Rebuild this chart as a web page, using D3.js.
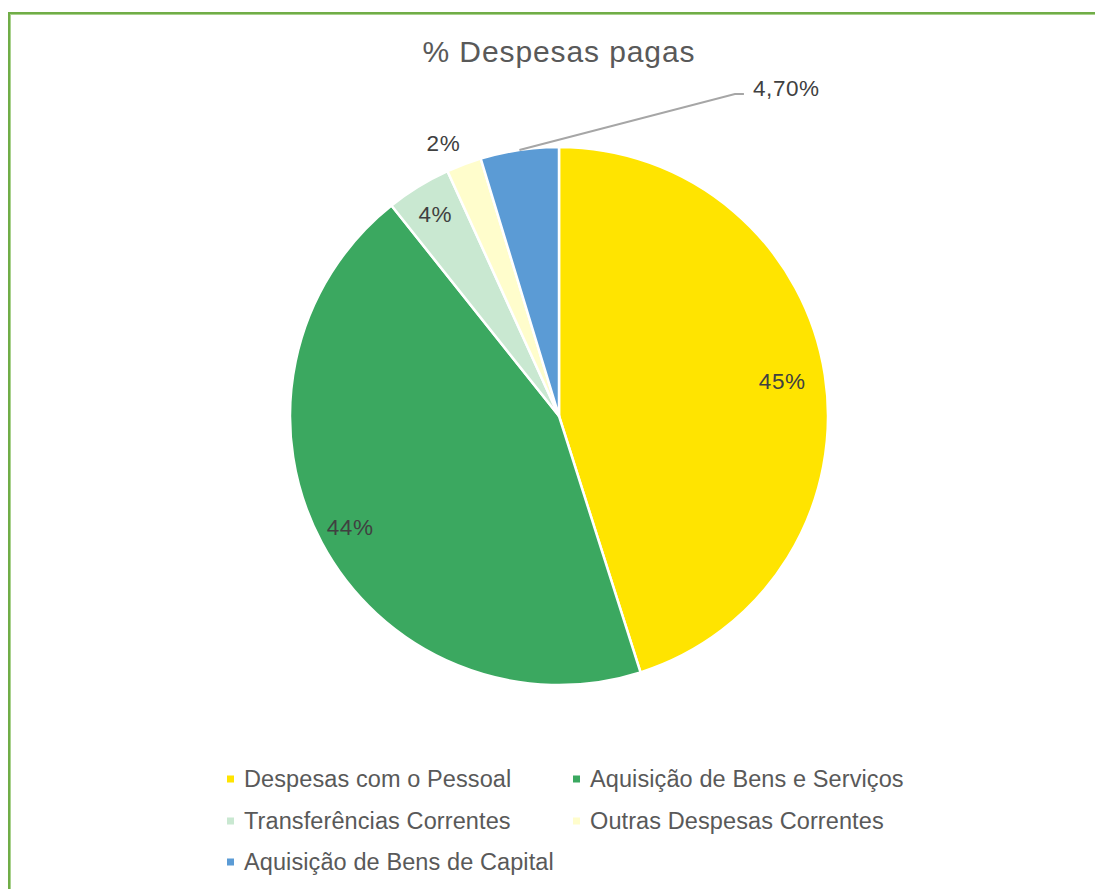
<!DOCTYPE html>
<html>
<head>
<meta charset="utf-8">
<script src="https://cdn.jsdelivr.net/npm/d3@7"></script>
<style>
  html, body { margin: 0; padding: 0; background: #fff; }
  svg { display: block; font-family: "Liberation Sans", Arial, sans-serif; }
</style>
</head>
<body>
<svg id="chart" width="1095" height="889"></svg>
<script>
const categories = [
  "Despesas com o Pessoal",
  "Aquisição de Bens e Serviços",
  "Transferências Correntes",
  "Outras Despesas Correntes",
  "Aquisição de Bens de Capital",
];
const values = [45.1, 44.2, 3.9, 2.1, 4.7];
const valueLabels = ["45%", "44%", "4%", "2%", "4,70%"];
const colors = ["#FFE400", "#3BA860", "#C9E8D1", "#FFFDCC", "#5B9BD5"];

const width = 1095;
const height = 889;
const cx = 559;
const cy = 416;
const radius = 269;

const svg = d3.select("#chart");

// chart frame (right and bottom edges fall outside the window)
svg.append("rect")
  .attr("x", 9).attr("y", 13)
  .attr("width", 1300).attr("height", 1200)
  .attr("fill", "none")
  .attr("stroke", "#70AD47")
  .attr("stroke-width", 2);
svg.append("rect")
  .attr("x", 10.5).attr("y", 14.5)
  .attr("width", 1300).attr("height", 1200)
  .attr("fill", "none")
  .attr("stroke", "#A9D18E")
  .attr("stroke-width", 1);

svg.append("text")
  .attr("x", cx)
  .attr("y", 62)
  .attr("text-anchor", "middle")
  .attr("font-size", 30)
  .attr("letter-spacing", 0.9)
  .attr("fill", "#595959")
  .text("% Despesas pagas");

const data = categories.map((c, i) => ({ name: c, value: values[i], label: valueLabels[i], color: colors[i] }));

const pie = d3.pie().sort(null).value((d) => d.value);
const arcs = pie(data);
const arc = d3.arc().innerRadius(0).outerRadius(radius);

const g = svg.append("g").attr("transform", `translate(${cx},${cy})`);

g.selectAll(".slice")
  .data(arcs)
  .join("path")
  .attr("class", "slice")
  .attr("d", arc)
  .attr("fill", (d) => d.data.color)
  .attr("stroke", "#fff")
  .attr("stroke-width", 2.5)
  .attr("stroke-linejoin", "round");

// label radius as a fraction of the pie radius (null = callout)
const labelRadius = [0.84, 0.88, 0.88, 1.1, null];
const labelShift = [0, 0, 0, -0.04, 0]; // small angular nudges, radians

const labelPos = (d, k, shift = 0) => {
  const a = (d.startAngle + d.endAngle) / 2 + shift;
  return [Math.sin(a) * radius * k, -Math.cos(a) * radius * k];
};

arcs.forEach((d, i) => {
  if (labelRadius[i] === null) return;
  const [x, y] = labelPos(d, labelRadius[i], labelShift[i]);
  g.append("text")
    .attr("x", x)
    .attr("y", y)
    .attr("dy", "0.35em")
    .attr("text-anchor", "middle")
    .attr("font-size", 22.5)
    .attr("letter-spacing", 0.6)
    .attr("fill", "#404040")
    .text(d.data.label);
});

// callout label for the last slice
const callout = arcs[4];
const [sx, sy] = labelPos(callout, 1.0);
const elbow = [radius * 0.654, -radius * 1.197];
const end = [elbow[0] + 9, elbow[1]];
g.append("path")
  .attr("d", d3.line()([[sx, sy], elbow, end]))
  .attr("fill", "none")
  .attr("stroke", "#A6A6A6")
  .attr("stroke-width", 2);
g.append("text")
  .attr("x", end[0] + 9)
  .attr("y", end[1] - 6)
  .attr("dy", "0.35em")
  .attr("font-size", 22.5)
  .attr("letter-spacing", 0.6)
  .attr("fill", "#404040")
  .text(callout.data.label);

// legend
const legendCols = [227, 573];
const legendRows = [779, 821, 862];
const legend = svg.append("g");
data.forEach((d, i) => {
  const x = legendCols[i % 2];
  const y = legendRows[Math.floor(i / 2)];
  legend.append("rect")
    .attr("x", x).attr("y", y - 3.5)
    .attr("width", 7).attr("height", 7)
    .attr("fill", d.color);
  legend.append("text")
    .attr("x", x + 17)
    .attr("y", y)
    .attr("dy", "0.35em")
    .attr("font-size", 23.5)
    .attr("letter-spacing", 0.1)
    .attr("fill", "#595959")
    .text(d.name);
});
</script>
</body>
</html>
